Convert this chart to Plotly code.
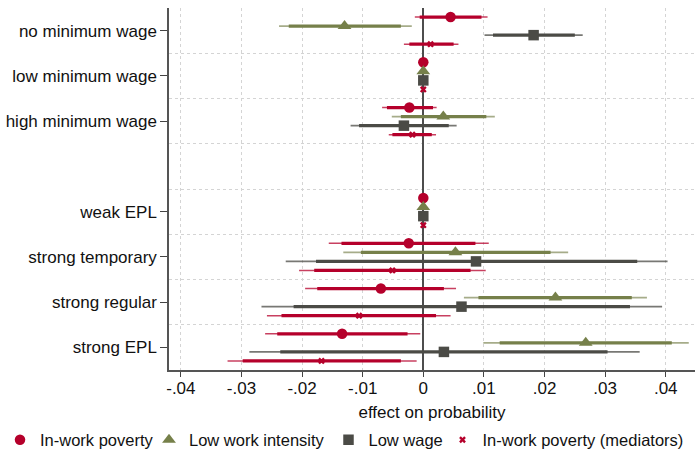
import plotly.graph_objects as go

# ---------------- data ----------------
bands = ["no minimum wage", "low minimum wage", "high minimum wage", "",
         "weak EPL", "strong temporary", "strong regular", "strong EPL"]
categories = ["no minimum wage", "low minimum wage", "high minimum wage",
              "weak EPL", "strong temporary", "strong regular", "strong EPL"]

series_names = ["In-work poverty", "Low work intensity", "Low wage",
                "In-work poverty (mediators)"]

iwp_point = [0.0045, 0, -0.0023, 0, -0.0024, -0.0070, -0.0134]
iwp_outer_lo = [-0.0014, None, -0.0068, None, -0.0156, -0.0195, -0.0261]
iwp_outer_hi = [0.0106, None, 0.0022, None, 0.0108, 0.0054, -0.0005]
iwp_inner_lo = [-0.0006, None, -0.0060, None, -0.0135, -0.0175, -0.0241]
iwp_inner_hi = [0.0096, None, 0.0016, None, 0.0086, 0.0034, -0.0026]

lwi_point = [-0.0130, 0, 0.0033, 0, 0.0053, 0.0218, 0.0268]
lwi_outer_lo = [-0.0238, None, -0.0052, None, -0.0132, 0.0067, 0.0099]
lwi_outer_hi = [-0.0019, None, 0.0118, None, 0.0239, 0.0369, 0.0438]
lwi_inner_lo = [-0.0222, None, -0.0037, None, -0.0103, 0.0091, 0.0126]
lwi_inner_hi = [-0.0037, None, 0.0104, None, 0.0210, 0.0344, 0.0410]

lw_point = [0.0182, 0, -0.0032, 0, 0.0087, 0.0063, 0.0034]
lw_outer_lo = [0.0101, None, -0.0120, None, -0.0227, -0.0267, -0.0287]
lw_outer_hi = [0.0263, None, 0.0055, None, 0.0403, 0.0394, 0.0357]
lw_inner_lo = [0.0115, None, -0.0106, None, -0.0177, -0.0214, -0.0236]
lw_inner_hi = [0.0250, None, 0.0042, None, 0.0353, 0.0341, 0.0304]

med_point = [0.0012, 0, -0.0018, 0, -0.0051, -0.0106, -0.0168]
med_outer_lo = [-0.0032, None, -0.0057, None, -0.0205, -0.0258, -0.0323]
med_outer_hi = [0.0058, None, 0.0021, None, 0.0103, 0.0045, -0.0011]
med_inner_lo = [-0.0023, None, -0.0051, None, -0.0180, -0.0234, -0.0298]
med_inner_hi = [0.0050, None, 0.0014, None, 0.0078, 0.0021, -0.0037]

x_tick_vals = [-0.04, -0.03, -0.02, -0.01, 0, 0.01, 0.02, 0.03, 0.04]
x_tick_labels = ["-.04", "-.03", "-.02", "-.01", "0", ".01", ".02", ".03", ".04"]

# ---------------- styling ----------------
colors = ["#B5002B", "#76804A", "#4B4B46", "#B5002B"]
thin_colors = ["rgba(181,0,43,0.75)", "rgba(118,128,74,0.65)",
               "rgba(75,75,70,0.75)", "rgba(181,0,43,0.75)"]
symbols = ["circle", "triangle-up", "square", "x"]
msizes = [10.5, 12, 10.5, 6]
legend_px = [0, 149, 328.5, 442.5]   # left edge of each legend entry (px)
FONT = "Liberation Sans, Arial, sans-serif"
W, H = 695, 451
SLOTS = 5  # slots per band (4 series + spacing)

series = [
    (iwp_point, iwp_outer_lo, iwp_outer_hi, iwp_inner_lo, iwp_inner_hi),
    (lwi_point, lwi_outer_lo, lwi_outer_hi, lwi_inner_lo, lwi_inner_hi),
    (lw_point, lw_outer_lo, lw_outer_hi, lw_inner_lo, lw_inner_hi),
    (med_point, med_outer_lo, med_outer_hi, med_inner_lo, med_inner_hi),
]

cat_band = [bands.index(c) for c in categories]

fig = go.Figure()

for s, (pt, olo, ohi, ilo, ihi) in enumerate(series):
    ys = [b * SLOTS + s + 1 for b in cat_band]
    xo, yo, xi, yi = [], [], [], []
    for k in range(len(categories)):
        if olo[k] is not None:
            xo += [olo[k], ohi[k], None]
            yo += [ys[k], ys[k], None]
            xi += [ilo[k], ihi[k], None]
            yi += [ys[k], ys[k], None]
    fig.add_trace(go.Scatter(x=xo, y=yo, mode="lines", showlegend=False,
                             line=dict(color=thin_colors[s], width=1.6),
                             hoverinfo="skip"))
    fig.add_trace(go.Scatter(x=xi, y=yi, mode="lines", showlegend=False,
                             line=dict(color=colors[s], width=3.2),
                             hoverinfo="skip"))

legend_names = ["legend", "legend2", "legend3", "legend4"]
for s, (pt, olo, ohi, ilo, ihi) in enumerate(series):
    ys = [b * SLOTS + s + 1 for b in cat_band]
    mk = dict(color=colors[s], symbol=symbols[s], size=msizes[s])
    if symbols[s] == "x":
        mk["line"] = dict(width=0)
    fig.add_trace(go.Scatter(x=pt, y=ys, mode="markers", name=series_names[s],
                             marker=mk, legend=legend_names[s]))

n_bands = len(bands)
y_tick_vals = [i * SLOTS + 2.5 for i, b in enumerate(bands) if b]
y_tick_text = [b for b in bands if b]
band_edges = [i * SLOTS for i in range(1, n_bands)]

legend_layout = {}
for s, ln in enumerate(legend_names):
    legend_layout[ln] = dict(orientation="h", xref="container", yref="container",
                             x=legend_px[s] / W, y=(H - 440) / H,
                             xanchor="left", yanchor="middle",
                             font=dict(size=16.5, family=FONT, color="#111111"),
                             itemsizing="trace", bgcolor="rgba(0,0,0,0)")

fig.update_layout(
    width=W, height=H,
    margin=dict(l=169, r=0, t=8, b=81),
    paper_bgcolor="white", plot_bgcolor="white",
    font=dict(family=FONT, size=17, color="#111111"),
    showlegend=True,
    **legend_layout,
    xaxis=dict(
        range=[-0.04196, 0.04483],
        tickvals=x_tick_vals, ticktext=x_tick_labels,
        ticks="outside", ticklen=5, tickwidth=1.2, tickcolor="#444444",
        showline=True, linecolor="#555555", linewidth=1.5,
        showgrid=True, gridcolor="#d4d4d4", gridwidth=1, griddash="3px,3px",
        zeroline=True, zerolinecolor="#4d4d4d", zerolinewidth=1.6,
        title=dict(text="effect on probability", font=dict(size=17), standoff=13),
        tickfont=dict(size=17), ticklabelstandoff=-3,
        automargin=False,
    ),
    yaxis=dict(
        range=[n_bands * SLOTS, 0],
        tickvals=y_tick_vals, ticktext=y_tick_text,
        ticks="outside", ticklen=7, tickwidth=1.2, tickcolor="#444444",
        showline=True, linecolor="#555555", linewidth=1.5,
        showgrid=False, zeroline=False,
        tickfont=dict(size=17), automargin=False,
        minor=dict(tickvals=band_edges, showgrid=True, gridcolor="#d4d4d4",
                   gridwidth=1, griddash="3px,3px", ticklen=0),
    ),
)

fig.write_html("out.html")
